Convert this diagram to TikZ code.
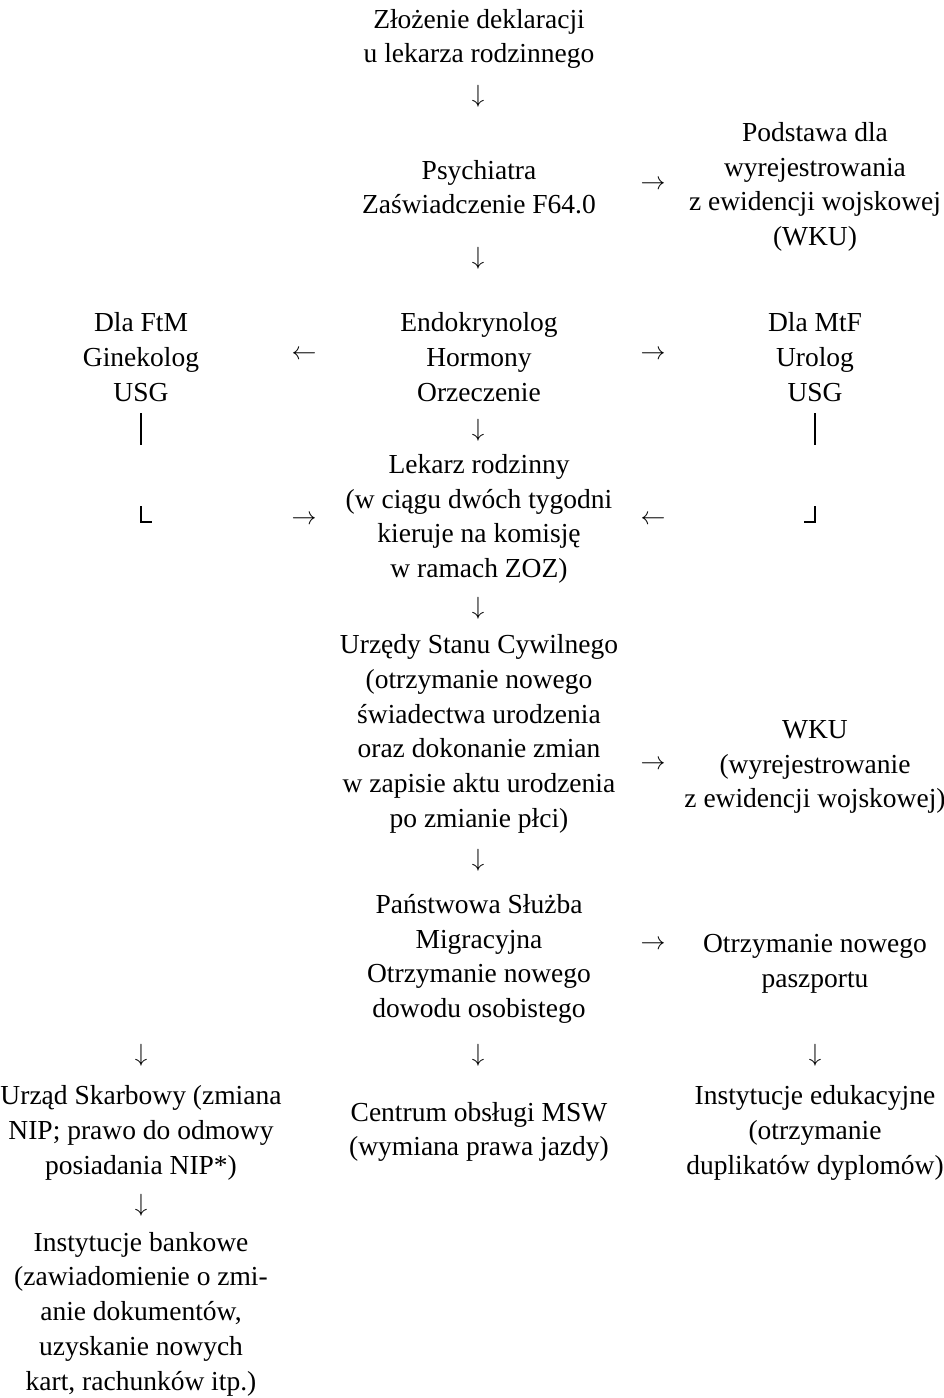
\documentclass[tikz,border=0pt]{standalone}
\usepackage{fontspec}
\setmainfont{Liberation Serif}
\begin{document}
\begin{tikzpicture}[x=1pt,y=-1pt,
  txt/.style={align=center,inner sep=0pt,font=\fontsize{27.5}{34.7}\selectfont},
  arr/.style={inner sep=0pt,font=\fontsize{31}{34.7}\selectfont},
  bar/.style={line width=2.2pt}]
\useasboundingbox (0,0) rectangle (944,1398);
\node[txt] (decl) at (479,39) {Złożenie deklaracji\\u lekarza rodzinnego};
\node[arr] (d1) at (478,96) {$\downarrow$};
\node[txt] (psych) at (479,187) {Psychiatra\\Zaświadczenie F64.0};
\node[arr] (r1) at (653,185) {$\rightarrow$};
\node[txt] (podst) at (815,187) {Podstawa dla\\wyrejestrowania\\z ewidencji wojskowej\\(WKU)};
\node[arr] (d2) at (478,258) {$\downarrow$};
\node[txt] (endo) at (479,357) {Endokrynolog\\Hormony\\Orzeczenie};
\node[arr] (l1) at (304,355) {$\leftarrow$};
\node[txt] (ftm) at (141,357) {Dla FtM\\Ginekolog\\USG};
\node[arr] (r2) at (653,355) {$\rightarrow$};
\node[txt] (mtf) at (815,357) {Dla MtF\\Urolog\\USG};
\node[arr] (d3) at (478,430) {$\downarrow$};
\node[txt] (lek) at (479,519) {Lekarz rodzinny\\(w ciągu dwóch tygodni\\kieruje na komisję\\w ramach ZOZ)};
\node[arr] (r3) at (304,520) {$\rightarrow$};
\node[arr] (l3) at (653,520) {$\leftarrow$};
% bars and corners
\coordinate (bl1) at (141,413); \coordinate (bl2) at (141,445);
\coordinate (br1) at (815,413); \coordinate (br2) at (815,445);
\draw[bar] (bl1) -- (bl2);
\draw[bar] (br1) -- (br2);
\coordinate (cl1) at (141,506); \coordinate (cl2) at (141,522); \coordinate (cl3) at (152,522);
\coordinate (cr1) at (815,506); \coordinate (cr2) at (815,522); \coordinate (cr3) at (804,522);
\draw[bar] (cl1) -- (cl2) -- (cl3);
\draw[bar] (cr1) -- (cr2) -- (cr3);
\node[arr] (d4) at (478,608) {$\downarrow$};
\node[txt] (usc) at (479,734) {Urzędy Stanu Cywilnego\\(otrzymanie nowego\\świadectwa urodzenia\\oraz dokonanie zmian\\w zapisie aktu urodzenia\\po zmianie płci)};
\node[arr] (r4) at (653,765) {$\rightarrow$};
\node[txt] (wku) at (815,767) {WKU\\(wyrejestrowanie\\z ewidencji wojskowej)};
\node[arr] (d5) at (478,860) {$\downarrow$};
\node[txt] (psm) at (479,959) {Państwowa Służba\\Migracyjna\\Otrzymanie nowego\\dowodu osobistego};
\node[arr] (r5) at (653,945) {$\rightarrow$};
\node[txt] (pasz) at (815,964) {Otrzymanie nowego\\paszportu};
\node[arr] (d6a) at (141,1055) {$\downarrow$};
\node[arr] (d6b) at (478,1055) {$\downarrow$};
\node[arr] (d6c) at (815,1055) {$\downarrow$};
\node[txt] (us) at (141,1133) {Urząd Skarbowy (zmiana\\NIP; prawo do odmowy\\posiadania NIP*)};
\node[txt] (msw) at (479,1132) {Centrum obsługi MSW\\(wymiana prawa jazdy)};
\node[txt] (edu) at (815,1133) {Instytucje edukacyjne\\(otrzymanie\\duplikatów dyplomów)};
\node[arr] (d7) at (141,1205) {$\downarrow$};
\node[txt] (bank) at (141,1314) {Instytucje bankowe\\(zawiadomienie o zmi-\\anie dokumentów,\\uzyskanie nowych\\kart, rachunków itp.)};
\end{tikzpicture}
\end{document}
